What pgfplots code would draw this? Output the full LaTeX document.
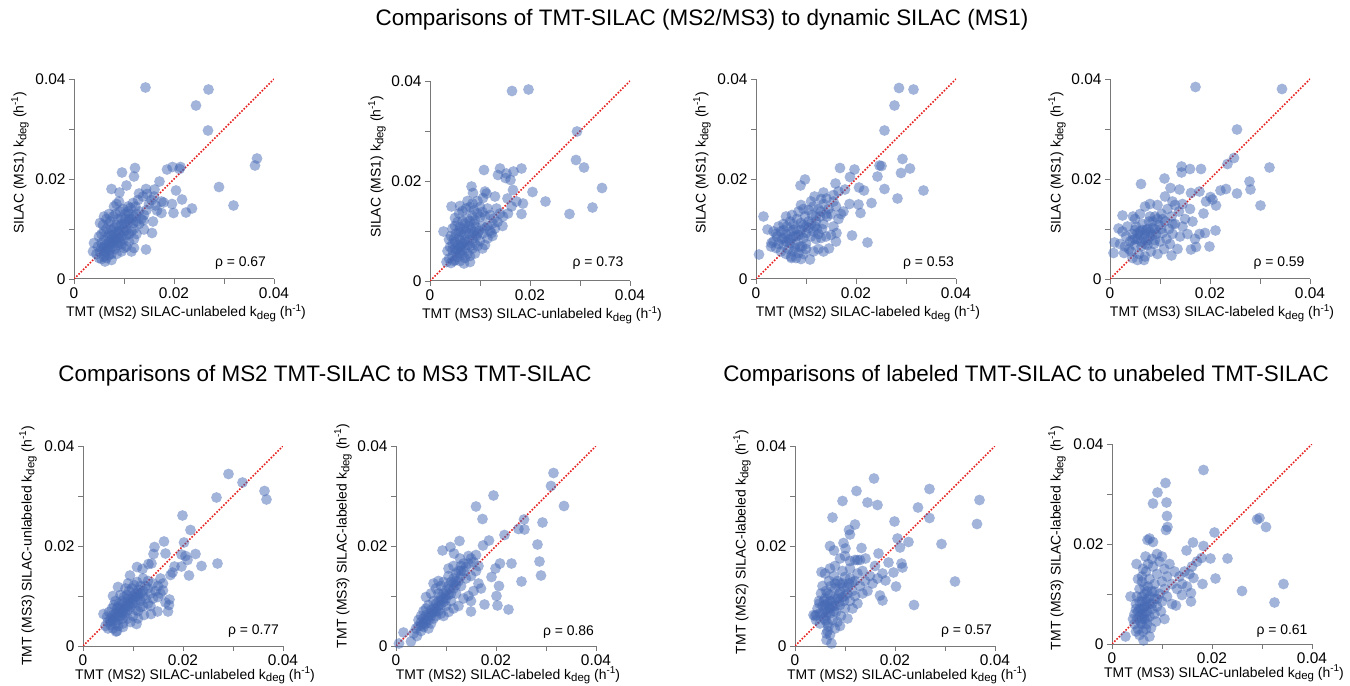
\documentclass[border=0pt]{standalone}
\usepackage{fontspec}
\setmainfont{Liberation Sans}
\usepackage{pgfplots}
\pgfplotsset{compat=1.18}
\definecolor{dotclr}{RGB}{70,105,180}
\definecolor{axclr}{RGB}{120,120,120}
\definecolor{diagclr}{RGB}{230,30,30}
\newcommand{\kdeg}{k\raisebox{-0.35ex}{\fontsize{11.5}{13}\selectfont deg}}
\newcommand{\hinv}{(h\raisebox{0.75ex}{\fontsize{10}{12}\selectfont -1})}
\pgfplotsset{
  kplot/.style={
    scale only axis, width=200bp, height=200bp, anchor=south west,
    xmin=0, xmax=0.04, ymin=0, ymax=0.04,
    axis lines*=left,
    axis line style={axclr, line width=1bp},
    scaled ticks=false,
    xtick={0,0.02,0.04}, ytick={0,0.02,0.04},
    xticklabels={0,0.02,0.04}, yticklabels={0,0.02,0.04},
    minor xtick={0.01,0.03}, minor ytick={0.01,0.03},
    tick align=outside, major tick length=5bp, minor tick length=5bp,
    tick style={axclr, line width=0.8bp},
    ticklabel style={font=\fontsize{15.5}{18}\selectfont, text=black},
    label style={font=\fontsize{14}{16}\selectfont},
    xlabel style={at={(axis description cs:0.56,-0.17)}, anchor=center},
    /pgf/number format/assume math mode=true,
  },
  lowrow/.style={xlabel style={at={(axis description cs:0.56,-0.148)}, anchor=center}},
  pts/.style={only marks, mark=*, mark size=5.4bp, color=dotclr,
    mark options={draw=dotclr, fill=dotclr, draw opacity=0, fill opacity=0.5, line width=0pt}},
  diag/.style={diagclr, line width=1.6bp, dash pattern=on 1.6bp off 1.6bp, no marks},
  /pgfplots/table/kdat/.style={row sep=\\, header=false,
    x expr=\thisrowno{0}/1000, y expr=\thisrowno{1}/1000},
}
\newcommand{\rholab}[3]{\node[font=\fontsize{14}{16}\selectfont] at (axis cs:#1,#2) {ρ = #3};}
\begin{document}
\begin{tikzpicture}
\path[use as bounding box] (0,0) rectangle (1350bp,686bp);

% ---- top row ----
\begin{axis}[kplot, at={(74bp,407bp)},
  xlabel={TMT (MS2) SILAC-unlabeled \kdeg\ \hinv},
  ylabel={SILAC (MS1) \kdeg\ \hinv},
  ylabel style={at={(axis description cs:-0.27,0.58)}, anchor=center}]
\addplot[pts] table[kdat] {14.3 38.3\\ 26.9 37.9\\ 24.4 34.7\\ 26.8 29.7\\ 36.6 24.1\\ 36.2 22.7\\ 29.0 18.4\\ 31.9 14.7\\ 23.6 14.1\\ 22.4 13.3\\ 21.6 15.9\\ 19.9 13.2\\ 19.6 15.0\\ 20.4 17.7\\ 21.3 22.4\\ 19.7 22.4\\ 21.1 22.0\\ 18.6 21.9\\ 17.1 19.5\\ 16.1 17.9\\ 14.4 18.0\\ 12.2 22.2\\ 12.0 20.5\\ 9.6 21.3\\ 10.5 18.7\\ 7.5 18.0\\ 9.1 17.3\\ 13.0 17.1\\ 17.5 15.5\\ 17.9 15.3\\ 16.3 14.7\\ 16.6 13.7\\ 17.5 13.2\\ 15.8 11.5\\ 13.9 11.7\\ 14.0 9.9\\ 14.4 5.9\\ 15.6 9.2\\ 12.0 6.2\\
5.0 4.2\\ 5.5 4.0\\ 6.0 4.5\\ 6.5 4.2\\ 7.0 4.8\\ 7.5 5.0\\ 5.2 5.5\\ 5.8 6.0\\ 6.2 5.4\\ 6.8 6.2\\ 7.2 5.8\\ 7.8 6.5\\ 8.2 6.0\\ 8.8 6.8\\ 9.5 7.0\\ 4.5 5.0\\ 4.8 6.5\\ 5.5 7.2\\ 6.0 7.8\\ 6.5 7.0\\ 7.0 7.5\\ 7.5 8.0\\ 8.0 7.6\\ 8.5 8.2\\ 9.0 8.0\\ 9.5 8.6\\ 10.0 8.0\\ 10.5 8.8\\ 11.0 9.0\\ 11.5 9.5\\ 12.0 10.0\\ 5.0 8.5\\ 5.5 9.0\\ 6.0 9.5\\ 6.5 10.0\\ 7.0 9.0\\ 7.5 9.8\\ 8.0 10.2\\ 8.5 9.5\\ 9.0 10.5\\ 9.5 11.0\\ 10.0 10.2\\ 10.5 11.0\\ 11.0 11.5\\ 11.5 12.0\\ 12.0 12.5\\ 12.5 13.0\\ 13.0 13.5\\ 5.2 11.2\\ 5.8 10.8\\ 6.5 12.0\\ 7.2 11.5\\ 7.8 12.5\\ 8.3 13.0\\ 8.8 12.0\\ 9.2 13.5\\ 9.8 14.0\\ 10.2 13.0\\ 10.8 14.5\\ 11.3 14.2\\ 11.8 15.2\\ 12.3 14.5\\ 8.0 14.5\\ 8.5 15.0\\ 9.0 15.5\\ 4.0 7.2\\ 3.8 5.5\\ 6.2 3.5\\ 7.5 3.8\\ 8.5 5.0\\ 9.5 5.5\\ 10.5 6.5\\ 11.0 7.5\\ 12.0 8.0\\ 12.5 9.0\\ 11.5 5.5\\ 10.0 6.2\\ 13.0 11.0\\ 13.5 12.0\\ 14.0 12.8\\ 14.5 13.8\\ 15.0 15.0\\ 15.5 15.8\\ 16.0 16.5\\ 12.8 15.8\\ 13.8 16.5\\ 14.6 17.0\\ 11.0 13.0\\ 7.0 13.0\\ 6.0 12.5\\ 9.0 9.0\\ 10.0 9.5\\ 6.8 8.5\\ 7.5 7.0\\ 8.5 7.2\\ 10.2 12.0\\
6.0 6.5\\ 7.0 7.0\\ 8.0 8.0\\ 9.0 9.5\\ 10.0 11.0\\ 11.0 12.0\\ 7.5 8.8\\ 8.5 10.8\\ 6.5 5.5\\ 9.5 12.2\\ 10.5 9.8\\ 11.8 11.2\\ 5.5 6.2\\ 8.0 9.0\\ 9.2 7.5\\ 7.0 11.0\\ 12.5 11.5\\ 10.8 13.5\\};
\addplot[diag] coordinates {(0,0) (0.04,0.04)};
\rholab{0.0333}{0.0032}{0.67}
\end{axis}

\begin{axis}[kplot, at={(430bp,405bp)},
  xlabel={TMT (MS3) SILAC-unlabeled \kdeg\ \hinv},
  ylabel={SILAC (MS1) \kdeg\ \hinv},
  ylabel style={at={(axis description cs:-0.265,0.57)}, anchor=center}]
\addplot[pts] table[kdat] {16.4 38.0\\ 19.7 38.3\\ 29.4 29.9\\ 29.2 24.2\\ 30.8 22.7\\ 34.4 18.6\\ 32.5 14.7\\ 27.9 13.4\\ 23.1 15.9\\ 20.5 17.8\\ 18.3 13.4\\ 18.3 22.5\\ 16.7 21.9\\ 15.3 21.5\\ 14.0 22.5\\ 13.6 21.2\\ 10.8 22.2\\ 15.1 20.6\\ 16.1 20.2\\ 16.6 18.2\\ 15.5 16.5\\ 17.3 15.9\\ 18.6 15.5\\ 16.3 14.9\\ 15.6 13.5\\ 14.6 12.9\\ 13.3 14.5\\ 13.0 16.9\\ 12.3 9.6\\ 8.3 18.9\\ 8.6 17.6\\ 11.0 17.9\\ 10.6 16.6\\ 11.3 17.5\\
3.3 3.8\\ 3.8 4.5\\ 4.2 3.6\\ 4.5 5.0\\ 5.0 4.2\\ 5.5 4.8\\ 6.0 4.0\\ 6.5 5.2\\ 7.0 4.6\\ 7.5 5.5\\ 8.0 5.0\\ 3.5 6.0\\ 4.0 6.8\\ 4.5 7.5\\ 5.0 6.5\\ 5.5 7.2\\ 6.0 6.8\\ 6.5 7.5\\ 7.0 6.5\\ 7.5 7.2\\ 8.0 7.0\\ 8.5 6.5\\ 9.0 7.5\\ 9.5 7.0\\ 10.0 8.0\\ 3.8 8.3\\ 4.2 9.0\\ 4.8 8.5\\ 5.2 9.5\\ 5.8 8.8\\ 6.2 9.8\\ 6.8 9.2\\ 7.2 10.2\\ 7.8 9.5\\ 8.2 10.5\\ 8.8 9.8\\ 9.2 10.8\\ 9.8 10.0\\ 10.5 9.5\\ 11.0 10.5\\ 11.5 11.0\\ 12.0 10.0\\ 12.5 11.5\\ 2.7 9.9\\ 4.5 10.5\\ 5.0 11.0\\ 5.5 11.8\\ 6.0 10.8\\ 6.5 12.0\\ 7.0 11.5\\ 7.5 12.5\\ 8.0 12.0\\ 8.5 13.0\\ 9.0 12.2\\ 9.5 13.5\\ 10.0 12.8\\ 10.5 13.8\\ 11.0 13.0\\ 5.0 12.6\\ 5.8 13.5\\ 6.5 14.0\\ 7.2 14.5\\ 8.0 14.8\\ 8.8 14.2\\ 4.3 14.9\\ 7.5 16.0\\ 8.5 15.5\\ 9.5 16.0\\ 10.0 14.8\\ 11.5 14.5\\ 12.0 13.2\\ 12.8 12.5\\ 13.5 11.8\\ 11.5 8.5\\ 12.5 9.0\\ 9.0 5.5\\ 10.5 6.5\\ 8.0 3.8\\ 6.8 3.5\\ 11.0 7.2\\ 13.0 10.5\\ 14.0 13.5\\ 14.5 11.0\\ 6.0 15.0\\ 7.0 8.2\\ 5.2 5.8\\ 6.3 6.0\\ 8.6 8.5\\ 9.3 9.0\\
5.5 6.2\\ 6.2 7.0\\ 7.0 7.8\\ 7.8 8.2\\ 8.5 9.2\\ 9.5 9.5\\ 5.0 7.8\\ 6.0 8.2\\ 4.5 6.2\\ 6.8 10.5\\ 7.8 11.0\\ 8.8 11.5\\ 5.8 10.0\\ 10.5 11.0\\ 4.8 4.0\\ 6.0 5.5\\};
\addplot[diag] coordinates {(0,0) (0.04,0.04)};
\rholab{0.0336}{0.0036}{0.73}
\end{axis}

\begin{axis}[kplot, at={(756bp,407bp)},
  xlabel={TMT (MS2) SILAC-labeled \kdeg\ \hinv},
  ylabel={SILAC (MS1) \kdeg\ \hinv},
  ylabel style={at={(axis description cs:-0.27,0.58)}, anchor=center}]
\addplot[pts] table[kdat] {28.6 38.2\\ 31.5 37.9\\ 27.7 34.7\\ 25.7 29.7\\ 29.3 24.0\\ 24.7 22.7\\ 25.1 22.6\\ 30.8 22.1\\ 29.0 21.2\\ 24.3 20.5\\ 33.5 17.7\\ 25.7 18.0\\ 28.3 16.1\\ 23.1 15.2\\ 21.6 17.7\\ 20.6 18.3\\ 19.7 21.9\\ 16.8 22.2\\ 18.8 20.4\\ 17.8 17.9\\ 18.7 15.0\\ 20.5 14.9\\ 17.5 13.5\\ 20.9 13.2\\ 19.2 8.7\\ 22.3 7.3\\ 9.8 19.9\\ 8.9 18.7\\ 15.9 19.1\\ 13.5 17.3\\ 11.7 16.5\\ 14.1 16.1\\ 0.6 4.9\\ 1.5 12.5\\ 2.3 9.9\\ 3.1 7.2\\ 10.8 3.9\\ 7.1 4.2\\ 14.6 6.1\\ 16.1 9.2\\
3.0 6.5\\ 3.5 7.5\\ 4.0 6.2\\ 4.5 7.0\\ 5.0 5.5\\ 5.5 6.8\\ 6.0 5.0\\ 6.5 6.0\\ 7.0 4.5\\ 7.5 5.5\\ 8.0 4.2\\ 8.5 5.2\\ 9.0 4.0\\ 9.5 5.0\\ 10.0 6.0\\ 11.5 5.5\\ 12.5 6.0\\ 13.5 5.5\\ 4.2 8.5\\ 5.0 9.5\\ 5.5 8.2\\ 6.0 9.0\\ 6.5 8.0\\ 7.0 9.5\\ 7.5 8.5\\ 8.0 10.0\\ 8.5 8.8\\ 9.0 9.8\\ 9.5 8.2\\ 10.0 9.2\\ 10.5 10.2\\ 11.0 8.5\\ 11.5 9.5\\ 12.0 8.0\\ 12.5 9.0\\ 13.0 8.2\\ 14.0 8.5\\ 15.0 8.8\\ 16.0 7.5\\ 4.5 10.5\\ 5.5 11.0\\ 6.2 10.5\\ 6.8 11.5\\ 7.5 11.0\\ 8.2 12.0\\ 9.0 11.2\\ 9.8 12.5\\ 10.5 11.5\\ 11.2 12.8\\ 12.0 11.5\\ 12.8 12.5\\ 13.5 11.0\\ 14.2 12.5\\ 15.0 13.0\\ 16.0 14.5\\ 6.0 12.5\\ 7.2 12.8\\ 8.5 13.5\\ 9.5 14.0\\ 10.5 13.8\\ 11.5 14.5\\ 12.5 14.0\\ 13.5 15.0\\ 14.5 14.0\\ 15.5 15.5\\ 9.0 14.8\\ 11.0 15.5\\ 13.0 16.0\\ 15.5 16.8\\ 16.5 17.5\\ 10.0 7.0\\ 8.0 7.0\\ 6.8 7.2\\ 5.2 8.0\\ 11.8 10.5\\ 13.2 10.0\\ 15.5 10.5\\ 16.5 12.0\\ 17.0 13.0\\ 4.0 9.0\\ 3.5 9.5\\ 7.8 6.2\\ 9.2 6.5\\
6.0 7.5\\ 7.0 8.0\\ 8.0 8.5\\ 9.0 8.8\\ 10.0 10.5\\ 11.0 11.0\\ 12.0 12.5\\ 13.0 13.5\\ 14.0 13.0\\ 5.5 9.8\\ 7.5 9.8\\ 9.5 10.8\\ 12.2 10.0\\ 8.8 6.5\\};
\addplot[diag] coordinates {(0,0) (0.04,0.04)};
\rholab{0.0345}{0.0032}{0.53}
\end{axis}

\begin{axis}[kplot, at={(1110bp,407bp)},
  xlabel={TMT (MS3) SILAC-labeled \kdeg\ \hinv},
  ylabel={SILAC (MS1) \kdeg\ \hinv},
  ylabel style={at={(axis description cs:-0.265,0.58)}, anchor=center}]
\addplot[pts] table[kdat] {17.1 38.4\\ 34.4 38.0\\ 25.4 29.9\\ 31.9 22.3\\ 24.8 24.2\\ 23.5 23.0\\ 27.9 19.5\\ 28.1 17.9\\ 30.1 14.7\\ 25.4 17.1\\ 23.2 18.0\\ 22.1 17.7\\ 18.2 22.0\\ 16.0 22.0\\ 14.3 22.5\\ 14.3 21.3\\ 10.9 20.1\\ 6.2 19.0\\ 12.1 18.2\\ 13.9 17.9\\ 16.2 17.2\\ 17.9 17.5\\ 20.1 16.4\\ 20.5 15.9\\ 21.2 14.7\\ 19.2 15.5\\ 18.7 13.1\\ 21.1 9.7\\ 19.9 6.5\\ 19.0 9.2\\ 17.9 9.0\\ 16.2 5.9\\ 17.2 6.4\\ 0.7 5.2\\ 0.9 7.3\\ 1.7 10.1\\ 2.5 12.7\\ 4.6 12.5\\ 12.3 4.7\\
2.0 7.0\\ 2.5 9.5\\ 3.0 6.5\\ 3.2 8.5\\ 3.5 10.5\\ 4.0 7.5\\ 4.2 5.5\\ 4.5 9.0\\ 5.0 6.8\\ 5.2 10.5\\ 5.5 8.0\\ 5.8 5.0\\ 6.0 9.5\\ 6.3 6.5\\ 6.5 11.0\\ 6.8 8.0\\ 7.0 4.5\\ 7.2 9.8\\ 7.5 6.8\\ 7.8 11.5\\ 8.0 8.5\\ 8.2 5.5\\ 8.5 10.2\\ 8.8 7.0\\ 9.0 12.5\\ 9.2 9.0\\ 9.5 5.0\\ 9.8 10.8\\ 10.0 7.5\\ 10.3 13.0\\ 10.5 9.2\\ 10.8 6.0\\ 11.0 11.5\\ 11.3 8.0\\ 11.5 14.0\\ 11.8 10.0\\ 12.0 7.0\\ 12.3 12.5\\ 12.5 9.0\\ 13.0 11.0\\ 13.5 6.0\\ 13.8 13.5\\ 14.0 8.5\\ 14.5 10.5\\ 15.0 12.0\\ 15.5 9.0\\ 16.0 14.0\\ 16.5 11.5\\ 17.0 8.0\\ 7.0 14.5\\ 8.0 15.0\\ 6.0 13.0\\ 5.0 12.0\\ 9.5 14.8\\ 12.5 15.5\\ 11.0 16.5\\ 4.5 4.2\\ 5.5 3.8\\ 6.8 3.8\\ 3.8 6.0\\ 2.8 5.2\\ 7.5 10.0\\ 8.5 8.8\\ 9.0 7.8\\ 10.2 10.0\\ 6.2 7.5\\ 5.0 9.8\\ 13.0 14.8\\ 14.5 15.0\\
5.0 8.0\\ 6.0 8.8\\ 7.0 9.0\\ 7.5 7.8\\ 8.0 9.5\\ 8.5 11.5\\ 9.0 10.0\\ 6.5 9.8\\ 5.5 9.2\\ 4.5 7.8\\ 7.0 7.0\\ 8.0 12.5\\ 9.5 12.0\\ 10.5 12.0\\ 12.5 11.0\\};
\addplot[diag] coordinates {(0,0) (0.04,0.04)};
\rholab{0.0338}{0.0032}{0.59}
\end{axis}

% ---- bottom row ----
\begin{axis}[kplot, lowrow, at={(83bp,40bp)},
  xlabel={TMT (MS2) SILAC-unlabeled \kdeg\ \hinv},
  ylabel={TMT (MS3) SILAC-unlabeled \kdeg\ \hinv},
  ylabel style={at={(axis description cs:-0.275,0.5)}, anchor=center}]
\addplot[pts] table[kdat] {29.1 34.4\\ 31.9 32.7\\ 36.3 31.0\\ 36.7 29.3\\ 26.7 29.7\\ 19.9 26.1\\ 21.5 23.2\\ 20.2 20.7\\ 22.5 18.4\\ 26.9 16.5\\ 23.7 16.0\\ 21.2 14.1\\ 20.5 18.0\\ 19.7 18.3\\ 20.9 17.2\\ 18.3 15.9\\ 19.7 15.9\\ 17.9 14.7\\ 17.5 14.2\\ 14.3 19.8\\ 16.2 20.9\\ 16.5 18.5\\ 14.1 18.4\\ 13.7 16.5\\ 13.1 16.4\\ 10.8 15.8\\ 11.9 15.4\\ 9.4 14.1\\ 16.0 11.1\\ 17.3 9.3\\ 17.2 8.2\\ 16.5 8.7\\ 17.0 6.9\\ 14.9 6.9\\ 13.6 6.4\\ 10.7 4.4\\ 6.6 2.9\\ 4.1 6.4\\
4.5 4.0\\ 5.0 4.8\\ 5.0 3.5\\ 5.5 5.5\\ 5.5 4.2\\ 6.0 5.0\\ 6.0 6.2\\ 6.5 4.5\\ 6.5 5.8\\ 7.0 6.8\\ 7.0 5.2\\ 7.5 6.0\\ 7.5 7.5\\ 8.0 5.5\\ 8.0 7.0\\ 8.5 6.5\\ 8.5 8.0\\ 9.0 7.2\\ 9.0 8.8\\ 9.5 7.8\\ 9.5 9.5\\ 10.0 8.5\\ 10.0 10.0\\ 10.5 9.0\\ 10.5 10.5\\ 11.0 9.8\\ 11.0 11.2\\ 11.5 10.5\\ 11.5 12.0\\ 12.0 11.0\\ 12.5 12.0\\ 13.0 11.5\\ 13.5 10.5\\ 14.0 12.5\\ 14.5 11.0\\ 15.0 12.0\\ 5.2 6.8\\ 5.8 7.5\\ 6.2 8.2\\ 6.8 7.5\\ 7.2 8.5\\ 7.8 9.0\\ 8.2 9.8\\ 8.8 10.2\\ 9.2 11.0\\ 9.8 11.5\\ 10.2 12.2\\ 10.8 12.8\\ 6.0 3.5\\ 7.0 4.0\\ 8.0 4.5\\ 9.0 5.5\\ 10.0 6.0\\ 11.0 7.0\\ 12.0 8.0\\ 12.5 9.5\\ 13.0 8.5\\ 11.5 7.8\\ 10.5 7.2\\ 6.5 9.0\\ 7.5 10.2\\ 8.5 11.5\\ 9.0 12.5\\ 7.0 11.8\\ 6.0 10.0\\ 12.0 13.5\\ 13.0 13.0\\ 6.8 3.0\\ 8.0 3.8\\ 9.5 4.8\\ 4.8 5.8\\ 12.2 6.2\\ 11.0 5.5\\ 13.5 8.0\\ 14.0 9.5\\ 15.0 9.8\\ 15.5 10.5\\ 16.0 12.5\\ 15.5 13.5\\
6.0 5.5\\ 6.5 6.5\\ 7.0 6.0\\ 7.5 6.8\\ 8.0 6.5\\ 8.5 7.5\\ 9.0 8.0\\ 9.5 8.5\\ 10.0 9.2\\ 10.5 9.8\\ 11.0 10.5\\ 5.5 5.0\\ 7.0 7.8\\ 8.0 8.5\\ 9.0 9.5\\ 11.5 9.0\\ 12.0 10.0\\};
\addplot[diag] coordinates {(0,0) (0.04,0.04)};
\rholab{0.0341}{0.0029}{0.77}
\end{axis}

\begin{axis}[kplot, lowrow, at={(396bp,40bp)},
  xlabel={TMT (MS2) SILAC-labeled \kdeg\ \hinv},
  ylabel={TMT (MS3) SILAC-labeled \kdeg\ \hinv},
  ylabel style={at={(axis description cs:-0.265,0.55)}, anchor=center}]
\addplot[pts] table[kdat] {31.5 34.6\\ 31.0 32.0\\ 33.6 28.0\\ 19.5 30.1\\ 16.0 27.9\\ 17.3 25.4\\ 25.6 25.3\\ 25.7 23.3\\ 24.5 23.4\\ 29.3 24.7\\ 21.7 22.2\\ 28.3 20.3\\ 28.7 16.9\\ 29.0 14.1\\ 25.1 12.9\\ 23.1 16.5\\ 20.8 16.5\\ 19.9 15.5\\ 18.6 21.1\\ 17.4 20.1\\ 20.6 12.0\\ 20.1 10.0\\ 20.3 8.1\\ 22.5 7.3\\ 17.7 8.3\\ 19.1 13.8\\ 15.0 6.9\\ 12.7 21.0\\ 10.9 19.8\\ 9.3 19.1\\ 11.6 18.5\\ 0.6 0.5\\ 1.5 2.7\\ 3.0 0.9\\
3.5 2.5\\ 4.0 3.5\\ 4.2 2.0\\ 4.5 4.0\\ 5.0 3.0\\ 5.0 4.8\\ 5.5 3.8\\ 5.5 5.5\\ 6.0 4.5\\ 6.0 6.2\\ 6.5 5.2\\ 6.5 3.5\\ 7.0 6.0\\ 7.0 7.2\\ 7.5 5.5\\ 7.5 6.8\\ 8.0 7.5\\ 8.0 8.5\\ 8.5 7.0\\ 8.5 9.0\\ 9.0 8.2\\ 9.0 9.8\\ 9.5 8.8\\ 9.5 10.5\\ 10.0 9.5\\ 10.0 11.0\\ 10.5 10.2\\ 10.5 12.0\\ 11.0 10.5\\ 11.0 12.8\\ 11.5 11.5\\ 11.5 13.5\\ 12.0 12.2\\ 12.0 14.5\\ 12.5 13.0\\ 12.5 15.0\\ 13.0 14.0\\ 13.0 16.0\\ 13.5 15.0\\ 13.5 16.5\\ 14.0 15.8\\ 14.5 16.5\\ 15.0 17.5\\ 15.5 16.8\\ 16.0 18.2\\ 14.0 13.5\\ 13.0 12.0\\ 12.0 10.5\\ 11.0 9.0\\ 10.0 8.0\\ 9.0 6.5\\ 8.0 6.0\\ 7.0 4.5\\ 6.0 7.5\\ 5.5 7.0\\ 6.5 8.2\\ 7.5 9.0\\ 8.5 10.5\\ 9.0 12.0\\ 8.0 11.5\\ 7.5 12.5\\ 8.5 13.0\\ 9.5 12.8\\ 10.5 14.0\\ 7.0 10.5\\ 6.0 9.8\\ 5.0 6.0\\ 4.5 5.2\\ 15.0 14.0\\ 16.0 15.0\\ 16.5 12.5\\ 15.5 11.0\\ 14.5 10.0\\ 13.5 9.5\\ 12.5 8.0\\ 11.5 7.5\\ 10.5 6.8\\ 9.5 6.0\\ 15.0 9.0\\ 17.0 11.5\\ 16.5 16.0\\ 14.5 18.0\\ 12.8 17.5\\ 11.5 16.0\\ 10.5 15.5\\
6.0 5.2\\ 6.5 6.0\\ 7.0 6.5\\ 7.5 7.5\\ 8.0 7.0\\ 8.5 8.0\\ 9.0 9.0\\ 9.5 9.5\\ 10.0 10.2\\ 5.5 4.5\\ 5.0 4.0\\ 11.5 12.5\\ 12.0 13.0\\ 13.0 15.0\\ 10.8 11.5\\};
\addplot[diag] coordinates {(0,0) (0.04,0.04)};
\rholab{0.0345}{0.0028}{0.86}
\end{axis}

\begin{axis}[kplot, lowrow, at={(795bp,40bp)},
  xlabel={TMT (MS2) SILAC-unlabeled \kdeg\ \hinv},
  ylabel={TMT (MS2) SILAC-labeled \kdeg\ \hinv},
  ylabel style={at={(axis description cs:-0.265,0.52)}, anchor=center}]
\addplot[pts] table[kdat] {15.8 33.5\\ 12.3 31.0\\ 26.9 31.4\\ 36.9 29.2\\ 9.5 29.0\\ 14.5 28.7\\ 16.5 28.2\\ 24.6 27.7\\ 7.5 25.7\\ 26.9 25.6\\ 19.9 24.9\\ 36.4 24.4\\ 12.0 24.3\\ 10.8 23.2\\ 11.0 22.3\\ 20.5 21.5\\ 22.7 20.8\\ 21.0 19.7\\ 29.3 20.4\\ 13.3 19.6\\ 10.1 19.5\\ 9.7 20.6\\ 7.0 20.0\\ 7.8 19.1\\ 16.7 18.5\\ 21.3 16.5\\ 21.5 15.7\\ 19.7 14.7\\ 18.7 16.7\\ 18.1 13.1\\ 20.2 11.9\\ 17.0 10.1\\ 17.5 9.1\\ 32.0 12.9\\ 23.8 8.2\\ 13.0 17.2\\ 14.1 17.5\\ 12.0 17.2\\ 6.3 1.2\\ 7.3 0.5\\ 6.3 2.5\\ 6.7 3.9\\ 6.1 5.1\\ 4.3 6.2\\ 3.7 6.2\\ 5.3 14.8\\ 4.9 8.5\\
4.0 6.0\\ 4.5 7.5\\ 4.8 9.0\\ 5.0 6.5\\ 5.2 10.5\\ 5.5 8.0\\ 5.5 12.0\\ 5.8 5.5\\ 6.0 7.2\\ 6.0 9.5\\ 6.2 11.0\\ 6.5 4.5\\ 6.5 8.5\\ 6.8 13.0\\ 7.0 6.5\\ 7.0 10.2\\ 7.2 12.0\\ 7.5 5.2\\ 7.5 8.0\\ 7.8 14.0\\ 8.0 9.5\\ 8.0 11.5\\ 8.2 6.8\\ 8.5 13.0\\ 8.5 4.8\\ 8.8 10.5\\ 9.0 8.2\\ 9.0 12.5\\ 9.2 6.0\\ 9.5 15.0\\ 9.5 9.8\\ 9.8 11.8\\ 10.0 7.5\\ 10.0 13.8\\ 10.5 10.5\\ 10.5 5.5\\ 10.8 12.5\\ 11.0 9.0\\ 11.0 15.5\\ 11.5 11.0\\ 11.5 7.5\\ 12.0 13.0\\ 12.0 10.0\\ 12.5 14.5\\ 12.5 8.5\\ 13.0 12.0\\ 13.5 10.5\\ 13.5 15.0\\ 14.0 13.0\\ 14.5 11.0\\ 15.0 14.0\\ 15.5 12.5\\ 16.0 16.0\\ 16.5 13.5\\ 17.5 14.5\\ 6.0 14.5\\ 7.0 15.5\\ 8.0 16.0\\ 9.0 17.5\\ 10.0 18.0\\ 11.0 17.0\\ 12.5 17.2\\ 6.5 3.0\\ 7.0 2.2\\ 8.0 3.5\\ 9.0 4.0\\ 5.0 4.5\\ 4.2 5.2\\ 6.8 7.8\\ 7.8 7.0\\ 8.8 8.8\\ 9.8 9.0\\ 10.5 11.8\\ 11.5 12.8\\ 6.2 6.0\\ 5.8 9.0\\
6.5 6.8\\ 7.0 7.5\\ 7.5 9.0\\ 8.0 8.0\\ 8.5 9.5\\ 9.0 10.8\\ 6.0 8.2\\ 7.0 9.0\\ 8.0 12.5\\ 9.5 12.5\\ 5.5 6.5\\ 6.5 10.5\\ 10.0 10.0\\ 11.0 13.5\\};
\addplot[diag] coordinates {(0,0) (0.04,0.04)};
\rholab{0.0343}{0.0029}{0.57}
\end{axis}

\begin{axis}[kplot, lowrow, at={(1112bp,42bp)},
  xlabel={TMT (MS3) SILAC-unlabeled \kdeg\ \hinv},
  ylabel={TMT (MS3) SILAC-labeled \kdeg\ \hinv},
  ylabel style={at={(axis description cs:-0.275,0.53)}, anchor=center}]
\addplot[pts] table[kdat] {18.3 34.8\\ 10.7 32.2\\ 9.1 30.3\\ 10.9 28.3\\ 8.2 28.1\\ 29.0 24.9\\ 29.5 25.2\\ 30.8 23.4\\ 11.0 25.6\\ 11.1 23.4\\ 10.8 22.8\\ 20.5 22.3\\ 16.2 20.3\\ 7.5 21.1\\ 7.1 20.8\\ 8.2 20.4\\ 18.3 19.6\\ 14.9 18.7\\ 23.1 17.1\\ 19.7 17.1\\ 17.9 17.2\\ 34.3 12.0\\ 32.5 8.3\\ 26.0 10.6\\ 20.7 13.1\\ 18.1 12.0\\ 16.3 13.2\\ 15.8 10.2\\ 15.8 8.5\\ 14.0 9.8\\ 12.8 7.7\\ 10.5 5.0\\ 2.7 1.5\\ 3.7 9.5\\ 4.9 16.0\\ 6.7 17.5\\ 6.0 13.5\\ 6.3 0.7\\
4.5 4.0\\ 4.5 6.0\\ 4.8 8.0\\ 5.0 5.0\\ 5.0 9.5\\ 5.2 3.0\\ 5.5 7.0\\ 5.5 11.0\\ 5.8 4.2\\ 6.0 6.0\\ 6.0 8.5\\ 6.0 12.5\\ 6.2 2.5\\ 6.5 5.0\\ 6.5 7.5\\ 6.5 10.0\\ 6.8 14.5\\ 7.0 4.0\\ 7.0 6.5\\ 7.0 9.0\\ 7.2 11.5\\ 7.5 5.5\\ 7.5 8.0\\ 7.5 13.0\\ 7.8 3.2\\ 8.0 7.0\\ 8.0 10.5\\ 8.2 15.5\\ 8.5 6.0\\ 8.5 9.0\\ 8.5 12.0\\ 8.8 4.5\\ 9.0 7.5\\ 9.0 14.0\\ 9.5 10.0\\ 9.5 16.5\\ 9.8 6.5\\ 10.0 8.5\\ 10.0 12.5\\ 10.5 15.0\\ 10.5 11.0\\ 11.0 13.5\\ 11.0 9.5\\ 11.5 16.0\\ 12.0 12.0\\ 12.0 8.0\\ 12.5 14.5\\ 13.0 11.0\\ 13.5 13.5\\ 14.0 12.0\\ 14.5 14.5\\ 15.0 11.5\\ 15.5 14.0\\ 16.0 15.5\\ 17.0 16.5\\ 5.2 13.0\\ 6.2 15.0\\ 7.2 16.0\\ 8.0 17.0\\ 9.0 18.0\\ 10.0 17.5\\ 4.2 5.0\\ 4.8 2.5\\ 5.5 1.8\\ 6.8 3.0\\ 7.5 1.5\\ 6.0 9.5\\ 7.0 10.5\\ 5.8 7.0\\ 6.8 8.5\\
5.5 5.5\\ 6.0 5.0\\ 6.5 6.0\\ 7.0 7.5\\ 5.5 8.5\\ 6.2 7.0\\ 7.0 5.0\\ 7.5 9.5\\ 8.0 8.0\\ 6.5 11.5\\ 5.2 6.5\\ 8.5 10.5\\ 9.0 9.0\\ 4.8 7.0\\ 6.0 4.0\\};
\addplot[diag] coordinates {(0,0) (0.04,0.04)};
\rholab{0.0340}{0.0026}{0.61}
\end{axis}

% ---- titles ----
\node[font=\fontsize{22.5}{26}\selectfont] at (702bp,666bp) {Comparisons of TMT-SILAC (MS2/MS3) to dynamic SILAC (MS1)};
\node[font=\fontsize{22.5}{26}\selectfont] at (325bp,310bp) {Comparisons of MS2 TMT-SILAC to MS3 TMT-SILAC};
\node[font=\fontsize{22.5}{26}\selectfont] at (1026bp,310bp) {Comparisons of labeled TMT-SILAC to unabeled TMT-SILAC};
\end{tikzpicture}
\end{document}
